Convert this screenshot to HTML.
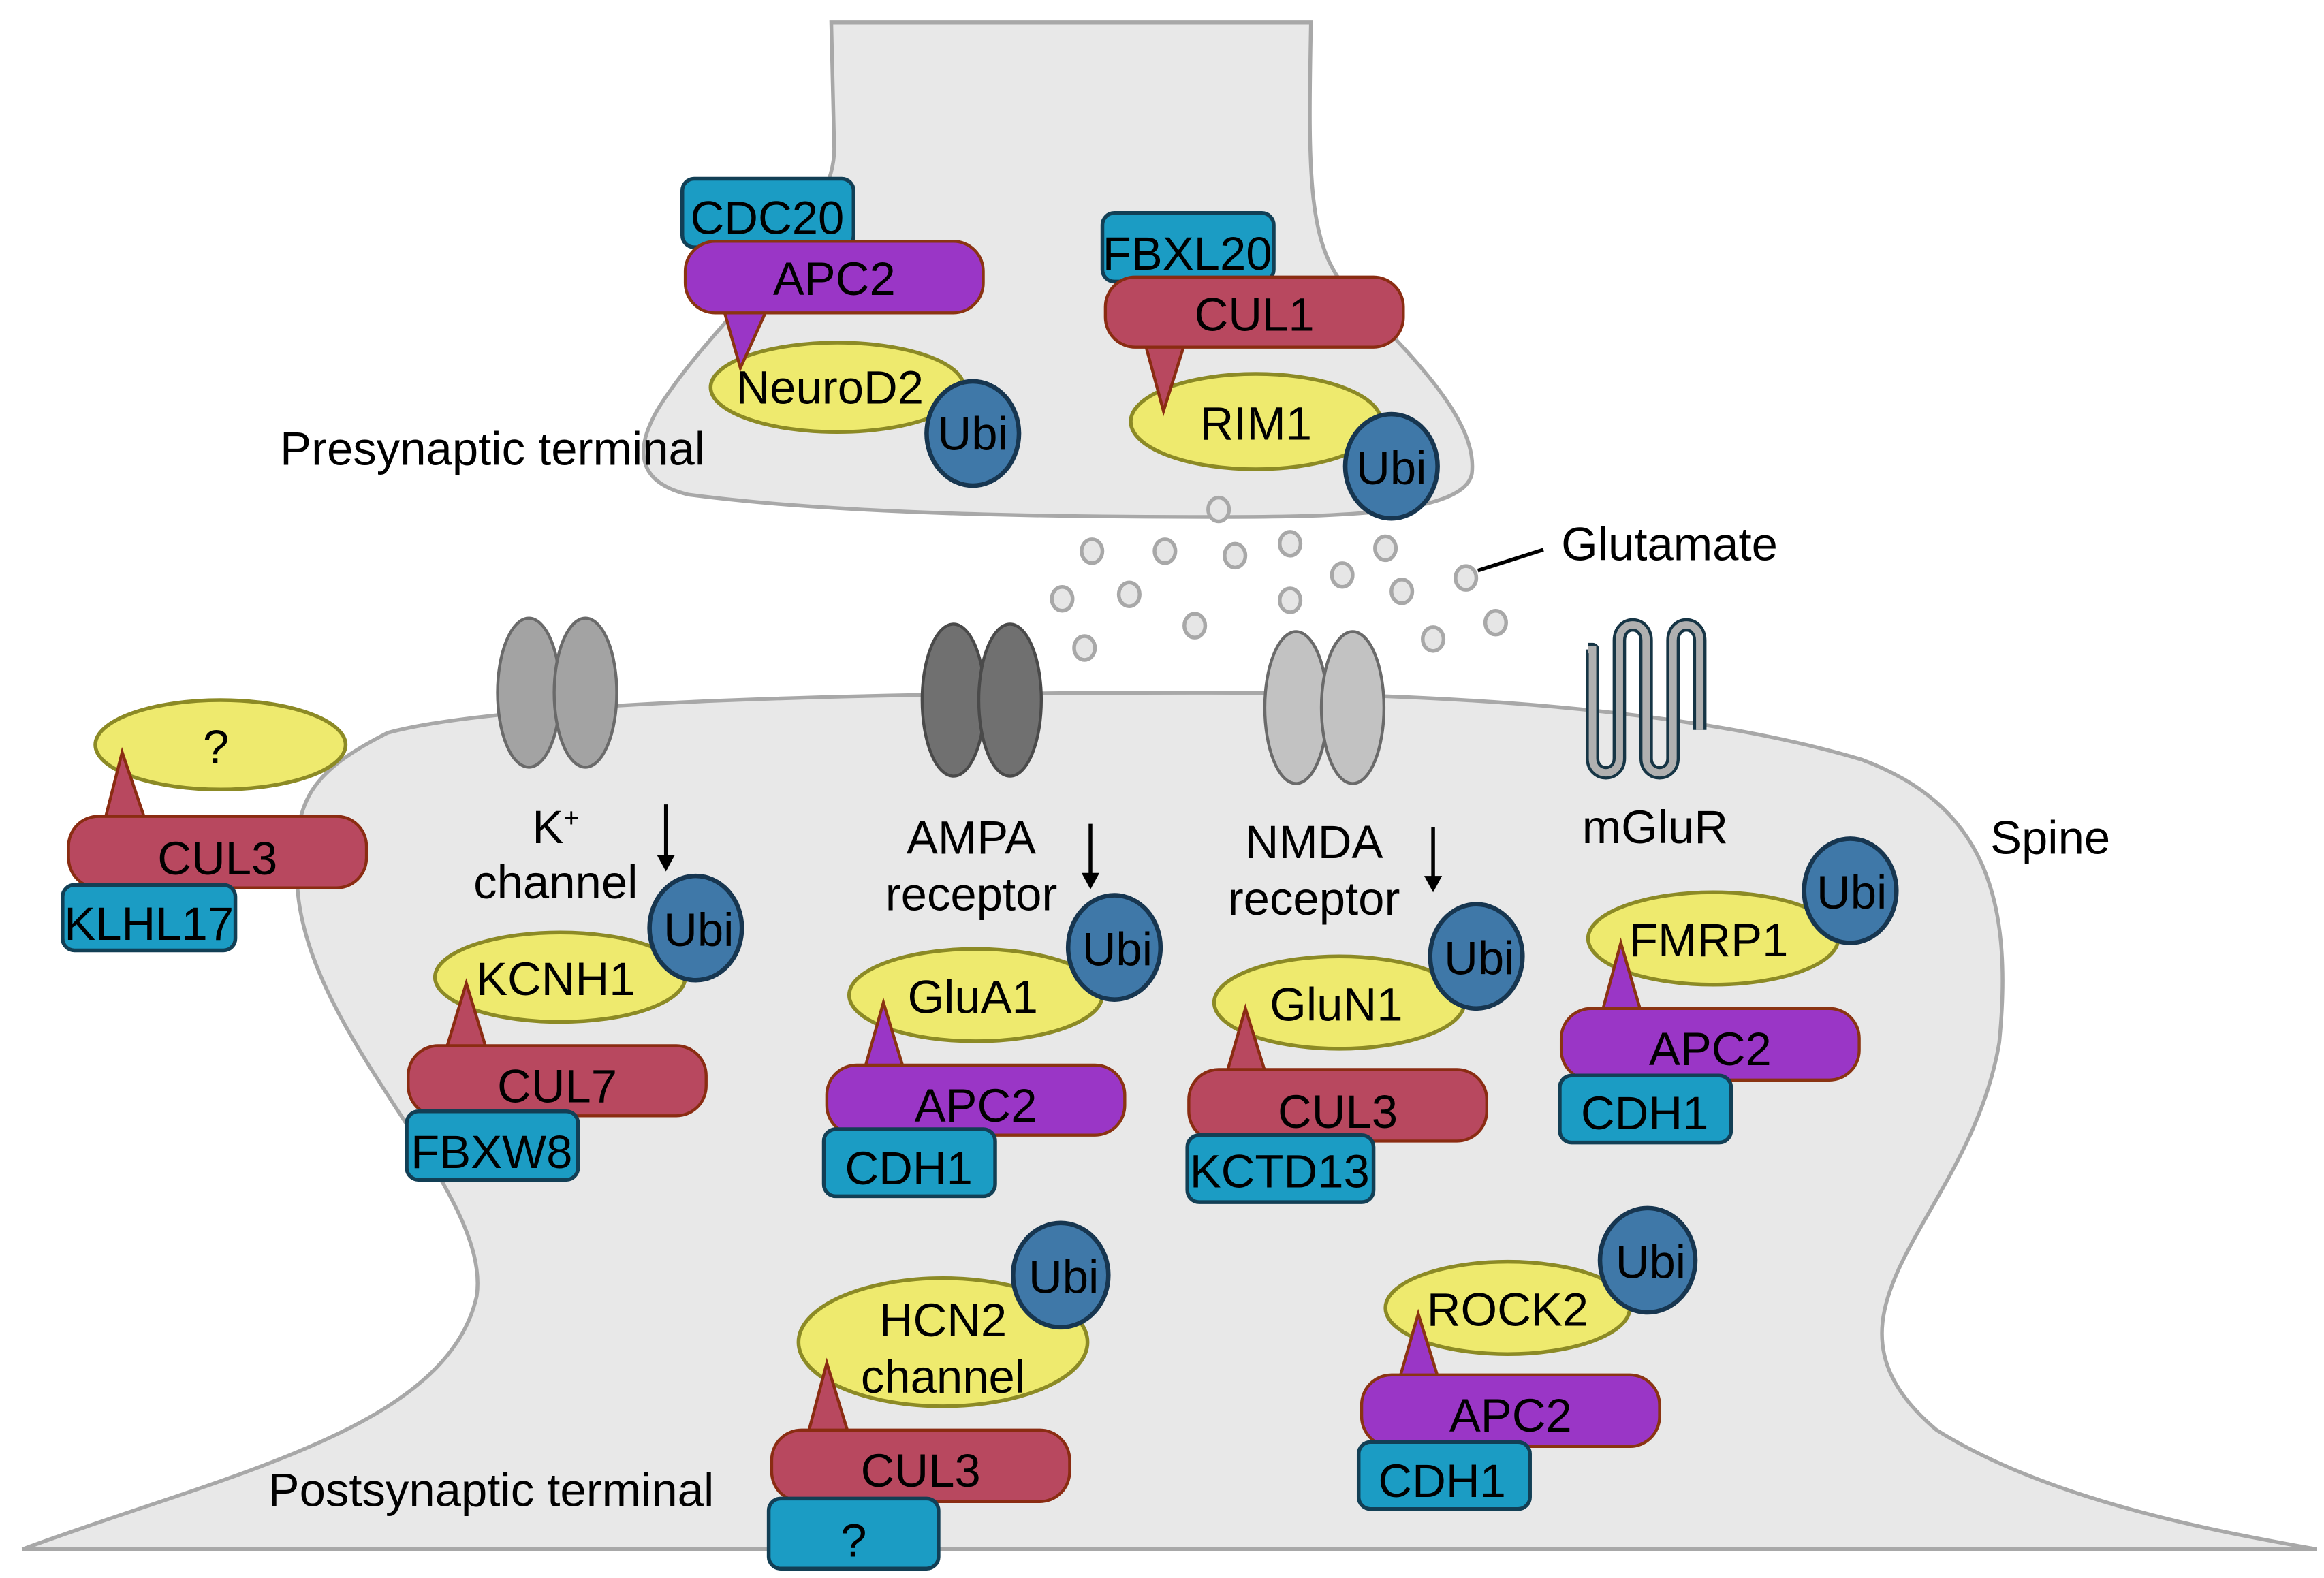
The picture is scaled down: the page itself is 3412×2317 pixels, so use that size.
<!DOCTYPE html>
<html><head><meta charset="utf-8"><style>
html,body{margin:0;padding:0;background:#fff}
svg{display:block}
text{font-family:"Liberation Sans",Arial,sans-serif;font-size:31.5px;fill:#000}
.c{text-anchor:middle}
.box{fill:#1b9cc4;stroke:#123f55;stroke-width:2.5}
.ell{fill:#eeea6e;stroke:#8c8a25;stroke-width:2.5}
.ubi{fill:#3f78a8;stroke:#173650;stroke-width:3}
.pur{fill:#9a36c6;stroke:#8a3412;stroke-width:2}
.red{fill:#b8485f;stroke:#8a2c12;stroke-width:2}
.ves{fill:#e6e6e6;stroke:#a8a8a8;stroke-width:2.5}
</style></head><body>
<svg width="3412" height="2317" viewBox="0 0 1560 1059.3" preserveAspectRatio="none" xmlns="http://www.w3.org/2000/svg">
<path d="M558,15 L880,15 C878,120 878,165 905,195 C955,245 992,285 988,318 C983,345 900,347 820,347 C700,347 560,345 462,332 C420,322 428,292 450,262 C490,205 560,150 560,100 Z" fill="#e8e8e8" stroke="#a8a8a8" stroke-width="2.5"/>
<path d="M15,1040 C150,990 300,960 320,870 C330,800 210,700 200,600 C195,540 205,520 260,492 C340,470 600,465 800,465 C1000,465 1150,480 1250,510 C1330,540 1352,600 1342,700 C1322,820 1205,880 1300,960 C1380,1010 1500,1030 1555,1040 Z" fill="#e8e8e8" stroke="#a8a8a8" stroke-width="2.5"/>

<g class="ves">
<ellipse cx="818" cy="342" rx="7" ry="8"/><ellipse cx="733" cy="370" rx="7" ry="8"/><ellipse cx="782" cy="370" rx="7" ry="8"/><ellipse cx="829" cy="373" rx="7" ry="8"/><ellipse cx="866" cy="365" rx="7" ry="8"/><ellipse cx="930" cy="368" rx="7" ry="8"/><ellipse cx="713" cy="402" rx="7" ry="8"/><ellipse cx="758" cy="399" rx="7" ry="8"/><ellipse cx="866" cy="403" rx="7" ry="8"/><ellipse cx="901" cy="386" rx="7" ry="8"/><ellipse cx="941" cy="397" rx="7" ry="8"/><ellipse cx="984" cy="388" rx="7" ry="8"/><ellipse cx="802" cy="420" rx="7" ry="8"/><ellipse cx="728" cy="435" rx="7" ry="8"/><ellipse cx="962" cy="429" rx="7" ry="8"/><ellipse cx="1004" cy="418" rx="7" ry="8"/>
</g>
<line x1="992" y1="383" x2="1036" y2="369" stroke="#000" stroke-width="2.5"/>
<text x="1048" y="376">Glutamate</text>
<text x="188" y="312">Presynaptic terminal</text>

<rect class="box" x="458" y="120" width="115" height="46" rx="8"/>
<text class="c" x="515" y="157">CDC20</text>
<ellipse class="ell" cx="562" cy="260" rx="85" ry="30"/>
<text class="c" x="557" y="271">NeuroD2</text>
<ellipse class="ubi" cx="653" cy="291" rx="31" ry="35"/>
<text class="c" x="653" y="302">Ubi</text>
<polygon class="pur" points="485,205 516,205 497,247"/>
<rect class="pur" x="460" y="162" width="200" height="48" rx="20"/>
<text class="c" x="560" y="198">APC2</text>

<rect class="box" x="740" y="143" width="115" height="46" rx="8"/>
<text class="c" x="797" y="181">FBXL20</text>
<ellipse class="ell" cx="843" cy="283" rx="84" ry="32"/>
<text class="c" x="843" y="295">RIM1</text>
<ellipse class="ubi" cx="934" cy="313" rx="31" ry="35"/>
<text class="c" x="934" y="325">Ubi</text>
<polygon class="red" points="768,228 796,228 781,276"/>
<rect class="red" x="742" y="186" width="200" height="47" rx="20"/>
<text class="c" x="842" y="222">CUL1</text>

<ellipse cx="355" cy="465" rx="21" ry="50" fill="#a3a3a3" stroke="#6a6a6a" stroke-width="2"/>
<ellipse cx="393" cy="465" rx="21" ry="50" fill="#a3a3a3" stroke="#6a6a6a" stroke-width="2"/>
<ellipse cx="640" cy="470" rx="21" ry="51" fill="#707070" stroke="#4a4a4a" stroke-width="2"/>
<ellipse cx="678" cy="470" rx="21" ry="51" fill="#707070" stroke="#4a4a4a" stroke-width="2"/>
<ellipse cx="870" cy="475" rx="21" ry="51" fill="#c2c2c2" stroke="#6a6a6a" stroke-width="2"/>
<ellipse cx="908" cy="475" rx="21" ry="51" fill="#c2c2c2" stroke="#6a6a6a" stroke-width="2"/>
<path d="M1066,436 L1069,436 L1069,509 C1069,522 1087,522 1087,509 L1087,430 C1087,416 1105,416 1105,430 L1105,509 C1105,522 1123,522 1123,509 L1123,430 C1123,416 1141,416 1141,430 L1141,490" fill="none" stroke="#163545" stroke-width="9" stroke-linejoin="round"/>
<path d="M1066,436 L1069,436 L1069,509 C1069,522 1087,522 1087,509 L1087,430 C1087,416 1105,416 1105,430 L1105,509 C1105,522 1123,522 1123,509 L1123,430 C1123,416 1141,416 1141,430 L1141,490" fill="none" stroke="#b0b0b0" stroke-width="5"/>

<ellipse class="ell" cx="148" cy="500" rx="84" ry="30"/>
<text class="c" x="145" y="512">?</text>
<polygon class="red" points="70,552 98,552 82,505"/>
<rect class="red" x="46" y="548" width="200" height="48" rx="20"/>
<text class="c" x="146" y="587">CUL3</text>
<rect class="box" x="42" y="594" width="116" height="44" rx="8"/>
<text class="c" x="100" y="631">KLHL17</text>

<text class="c" x="373" y="566">K<tspan font-size="18" dy="-11">+</tspan></text>
<text class="c" x="373" y="603">channel</text>
<line x1="447" y1="540" x2="447" y2="578" stroke="#000" stroke-width="2.5"/>
<polygon points="441,574 453,574 447,585" fill="#000"/>
<ellipse class="ell" cx="376" cy="656" rx="84" ry="30"/>
<text class="c" x="373" y="668">KCNH1</text>
<ellipse class="ubi" cx="467" cy="623" rx="31" ry="35"/>
<text class="c" x="469" y="635">Ubi</text>
<polygon class="red" points="299,706 327,706 313,660"/>
<rect class="red" x="274" y="702" width="200" height="47" rx="20"/>
<text class="c" x="374" y="740">CUL7</text>
<rect class="box" x="273" y="746" width="115" height="46" rx="8"/>
<text class="c" x="330" y="784">FBXW8</text>

<text class="c" x="652" y="573">AMPA</text>
<text class="c" x="652" y="611">receptor</text>
<line x1="732" y1="553" x2="732" y2="590" stroke="#000" stroke-width="2.5"/>
<polygon points="726,586 738,586 732,597" fill="#000"/>
<ellipse class="ell" cx="655" cy="668" rx="85" ry="31"/>
<text class="c" x="653" y="680">GluA1</text>
<ellipse class="ubi" cx="748" cy="636" rx="31" ry="35"/>
<text class="c" x="750" y="648">Ubi</text>
<polygon class="pur" points="580,719 607,719 593,673"/>
<rect class="pur" x="555" y="715" width="200" height="47" rx="20"/>
<text class="c" x="655" y="753">APC2</text>
<rect class="box" x="553" y="758" width="115" height="45" rx="8"/>
<text class="c" x="610" y="795">CDH1</text>

<text class="c" x="882" y="576">NMDA</text>
<text class="c" x="882" y="614">receptor</text>
<line x1="962" y1="555" x2="962" y2="592" stroke="#000" stroke-width="2.5"/>
<polygon points="956,588 968,588 962,599" fill="#000"/>
<ellipse class="ell" cx="899" cy="673" rx="84" ry="31"/>
<text class="c" x="897" y="685">GluN1</text>
<ellipse class="ubi" cx="991" cy="642" rx="31" ry="35"/>
<text class="c" x="993" y="654">Ubi</text>
<polygon class="red" points="823,722 850,722 836,677"/>
<rect class="red" x="798" y="718" width="200" height="48" rx="20"/>
<text class="c" x="898" y="757">CUL3</text>
<rect class="box" x="797" y="762" width="125" height="45" rx="8"/>
<text class="c" x="859" y="797">KCTD13</text>

<text class="c" x="1111" y="566">mGluR</text>
<text x="1336" y="573">Spine</text>
<ellipse class="ell" cx="1150" cy="630" rx="84" ry="31"/>
<text class="c" x="1147" y="642">FMRP1</text>
<ellipse class="ubi" cx="1242" cy="598" rx="31" ry="35"/>
<text class="c" x="1243" y="610">Ubi</text>
<polygon class="pur" points="1075,681 1102,681 1088,633"/>
<rect class="pur" x="1048" y="677" width="200" height="48" rx="20"/>
<text class="c" x="1148" y="715">APC2</text>
<rect class="box" x="1047" y="722" width="115" height="45" rx="8"/>
<text class="c" x="1104" y="758">CDH1</text>

<ellipse class="ell" cx="633" cy="901" rx="97" ry="43"/>
<text class="c" x="633" y="897">HCN2</text>
<text class="c" x="633" y="935">channel</text>
<ellipse class="ubi" cx="712" cy="856" rx="32" ry="35"/>
<text class="c" x="714" y="868">Ubi</text>
<polygon class="red" points="542,964 570,964 555,915"/>
<rect class="red" x="518" y="960" width="200" height="48" rx="20"/>
<text class="c" x="618" y="998">CUL3</text>
<rect class="box" x="516" y="1006" width="114" height="47" rx="8"/>
<text class="c" x="573" y="1045">?</text>

<ellipse class="ell" cx="1012" cy="878" rx="82" ry="31"/>
<text class="c" x="1012" y="890">ROCK2</text>
<ellipse class="ubi" cx="1106" cy="846" rx="32" ry="35"/>
<text class="c" x="1108" y="858">Ubi</text>
<polygon class="pur" points="939,927 966,927 952,882"/>
<rect class="pur" x="914" y="923" width="200" height="48" rx="20"/>
<text class="c" x="1014" y="961">APC2</text>
<rect class="box" x="912" y="968" width="115" height="45" rx="8"/>
<text class="c" x="968" y="1005">CDH1</text>

<text x="180" y="1011">Postsynaptic terminal</text>
</svg>
</body></html>
